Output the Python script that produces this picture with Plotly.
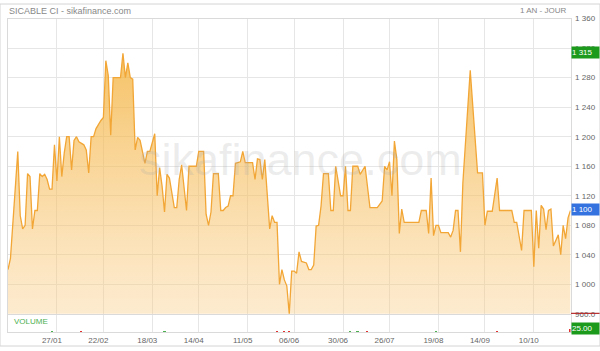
import plotly.graph_objects as go

# ---------------- data ----------------
days = [0, 1, 4, 5, 6, 7, 8, 9, 10, 11, 12, 13, 14, 15, 16, 17, 18, 19, 20, 21, 22, 23, 24, 25,
        26, 27, 28, 29, 31, 32, 33, 34, 35, 36, 38, 39, 40, 41, 42, 43, 46, 47, 48, 49, 50, 51,
        52, 53, 54, 56, 57, 58, 60, 61, 62, 63, 64, 65, 66, 68, 69, 70, 71, 73, 74, 77, 78, 80,
        81, 82, 83, 84, 86, 87, 88, 89, 90, 91, 92, 93, 95, 96, 97, 100, 101, 102, 103, 104, 105,
        107, 108, 109, 110, 111, 112, 113, 114, 115, 116, 117, 118, 119, 120, 122, 123, 124, 125,
        126, 127, 128, 129, 131, 132, 133, 134, 136, 137, 138, 139, 140, 141, 143, 144, 146, 148,
        151, 153, 154, 155, 156, 157, 158, 159, 160, 161, 162, 168, 169, 171, 172, 173, 174, 175,
        176, 177, 180, 181, 182, 183, 184, 185, 186, 189, 192, 194, 195, 196, 198, 200, 201, 206,
        207, 208, 210, 211, 214, 215, 216, 217, 218, 219, 220, 221, 222, 223, 225, 226, 227, 228,
        229, 230]
prices = [1020, 1035, 1180, 1093, 1075, 1080, 1150, 1146, 1075, 1100, 1100, 1150, 1146, 1149, 1142,
          1129, 1129, 1189, 1140, 1200, 1146, 1178, 1200, 1200, 1155, 1195, 1200, 1193, 1189, 1182,
          1151, 1200, 1200, 1211, 1222, 1226, 1303, 1283, 1202, 1280, 1280, 1313, 1280, 1300, 1280,
          1278, 1182, 1199, 1195, 1164, 1180, 1180, 1204, 1120, 1158, 1133, 1098, 1149, 1144, 1104,
          1104, 1142, 1162, 1100, 1160, 1160, 1180, 1180, 1095, 1080, 1098, 1150, 1150, 1100, 1100,
          1104, 1106, 1120, 1120, 1164, 1166, 1180, 1165, 1165, 1142, 1170, 1169, 1142, 1169, 1075,
          1093, 1084, 1084, 1000, 1020, 1006, 998, 960, 1018, 1018, 1015, 1044, 1031, 1029, 1020,
          1020, 1026, 1079, 1080, 1106, 1150, 1150, 1100, 1100, 1160, 1120, 1120, 1160, 1100, 1100,
          1160, 1160, 1149, 1160, 1104, 1104, 1113, 1160, 1155, 1166, 1120, 1194, 1169, 1069, 1102,
          1084, 1084, 1100, 1100, 1069, 1144, 1066, 1080, 1080, 1070, 1070, 1064, 1073, 1100, 1100,
          1044, 1138, 1290, 1151, 1151, 1080, 1099, 1099, 1144, 1100, 1100, 1084, 1084, 1046, 1100,
          1100, 1024, 1100, 1049, 1107, 1102, 1074, 1100, 1102, 1052, 1067, 1040, 1080, 1062, 1090,
          1100]

vol_days = [18, 30, 64, 110, 113, 115, 140, 143, 147, 175, 200, 230]
vol_values = [6, 4, 5, 8, 6, 10, 5, 7, 4, 5, 6, 25]
vol_up = [True, False, True, False, False, False, True, True, False, True, False, False]

tick_days = [20, 39, 59, 78, 98, 117, 137, 156, 176, 195, 215]
tick_labels = ["27/01", "22/02", "18/03", "14/04", "11/05", "06/06", "30/06", "26/07",
               "19/08", "14/09", "10/10"]

y_ticks = [960, 1000, 1040, 1080, 1120, 1160, 1200, 1240, 1280, 1320, 1360]
y_labels = ["960.0", "1 000", "1 040", "1 080", "1 120", "1 160", "1 200", "1 240",
            "1 280", "1 320", "1 360"]

high_label = "1 315"
last_label = "1 100"
volume_label = "25.00"
title_text = "SICABLE CI - sikafinance.com"
period_text = "1 AN - JOUR"

# ---------------- layout helpers ----------------
W, H = 600, 351
def px(x):
    return x / W
def py(y):
    return 1 - y / H

FONT = "Liberation Sans, Arial, sans-serif"
GRID = "#e6e6e6"
FRAME = "#dadada"

fig = go.Figure()

fig.add_trace(go.Scatter(
    x=days, y=prices, mode="lines",
    line=dict(color="#f2a636", width=1.3),
    fill="tozeroy",
    fillgradient=dict(type="vertical",
                      colorscale=[[0, "rgba(250,205,135,0.38)"], [1, "rgba(243,176,55,0.78)"]],
                      start=960, stop=1320),
    xaxis="x", yaxis="y", hoverinfo="skip", showlegend=False))

fig.add_trace(go.Bar(
    x=vol_days, y=vol_values,
    marker=dict(color=["#4caf50" if u else "#e03030" for u in vol_up], line=dict(width=0)),
    width=0.8, xaxis="x2", yaxis="y2", hoverinfo="skip", showlegend=False))

xdom = [px(8), px(570.5)]
fig.update_layout(
    width=W, height=H, margin=dict(l=0, r=0, t=0, b=0),
    paper_bgcolor="white", plot_bgcolor="white",
    font=dict(family=FONT, size=8, color="#666"),
    bargap=0,
    xaxis=dict(domain=xdom, range=[0, 230], anchor="y",
               tickvals=tick_days, ticktext=tick_labels, showticklabels=False,
               showgrid=True, gridcolor=GRID, gridwidth=1, zeroline=False,
               showline=True, mirror=True, linecolor=FRAME, linewidth=1, ticks=""),
    yaxis=dict(domain=[py(318), py(15)], range=[960, 1360], anchor="x", side="right",
               tickvals=y_ticks, ticktext=y_labels,
               showgrid=True, gridcolor=GRID, gridwidth=1, zeroline=False,
               showline=True, mirror=True, linecolor=FRAME, linewidth=1, ticks="",
               tickfont=dict(size=8, color="#666"), ticklabelstandoff=2),
    xaxis2=dict(domain=xdom, range=[0, 230], anchor="y2",
                tickvals=tick_days, ticktext=tick_labels, showticklabels=True,
                tickfont=dict(size=8, color="#666"), ticklabelshift=-5,
                showgrid=True, gridcolor=GRID, gridwidth=1, zeroline=False,
                showline=True, mirror=True, linecolor=FRAME, linewidth=1, ticks=""),
    yaxis2=dict(domain=[py(337), py(319.5)], range=[0, 120], anchor="x2",
                showticklabels=False, showgrid=False, zeroline=False,
                showline=True, mirror=True, linecolor=FRAME, linewidth=1, ticks=""),
)

annotations = [
    dict(text=title_text, x=px(7), y=py(7), xanchor="left", yanchor="middle",
         font=dict(size=9, color="#888", family=FONT)),
    dict(text=period_text, x=px(568), y=py(7), xanchor="right", yanchor="middle",
         font=dict(size=8, color="#888", family=FONT)),
    dict(text="VOLUME", x=px(12), y=py(325.5), xanchor="left", yanchor="middle",
         font=dict(size=8, color="#4cb050", family=FONT)),
    dict(text="sikafinance.com", x=px(300), y=py(160), xanchor="center", yanchor="middle",
         font=dict(size=45, color="rgba(170,170,170,0.22)", family=FONT)),
    dict(text=high_label, x=px(571), y=py(50), xanchor="left", yanchor="middle",
         width=27, height=11, bgcolor="#1c9a1c", borderpad=0,
         font=dict(size=8, color="white", family=FONT), align="left"),
    dict(text=last_label, x=px(571), y=py(211), xanchor="left", yanchor="middle",
         width=27, height=11, bgcolor="#3472e0", borderpad=0,
         font=dict(size=8, color="white", family=FONT), align="left"),
    dict(text=volume_label, x=px(571), y=py(333.5), xanchor="left", yanchor="middle",
         width=27, height=11, bgcolor="#1c9a1c", borderpad=0,
         font=dict(size=8, color="white", family=FONT), align="left"),
]
for a in annotations:
    a.update(xref="paper", yref="paper", showarrow=False)
fig.update_layout(annotations=annotations)

fig.update_layout(shapes=[
    dict(type="line", xref="paper", yref="paper", x0=px(571), x1=1, y0=py(317.5), y1=py(317.5),
         line=dict(color="#b52a2a", width=1.2)),
    dict(type="rect", xref="paper", yref="paper", x0=0, x1=1, y0=0, y1=1,
         line=dict(color="#d4d4d4", width=1)),
])

fig.write_html("out.html")
